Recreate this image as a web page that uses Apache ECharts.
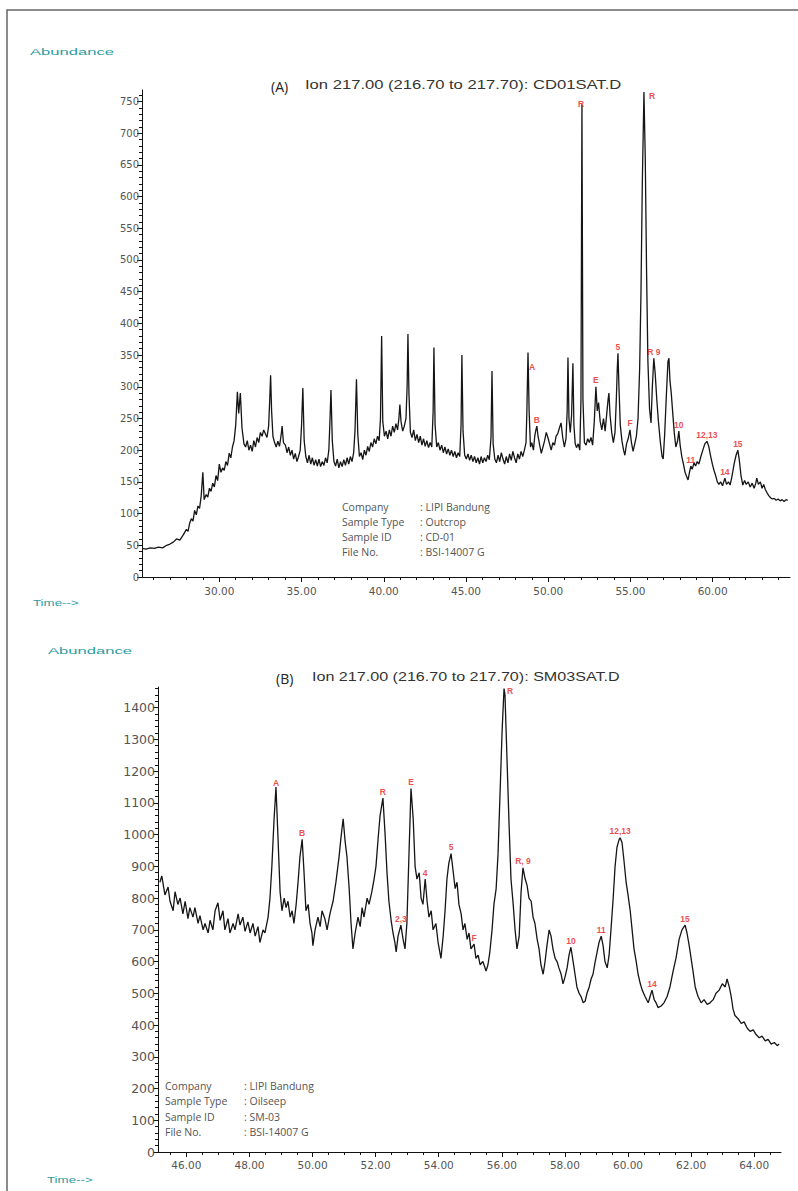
<!DOCTYPE html>
<html>
<head>
<meta charset="utf-8">
<script src="https://cdn.jsdelivr.net/npm/echarts@6/dist/echarts.min.js"></script>
<style>
html,body{margin:0;padding:0;background:#fff;}
#chart{width:798px;height:1191px;}
</style>
</head>
<body>
<div id="chart"></div>
<script>
// ---- Chromatogram (A): m/z 217, sample CD-01 ----
const timeA = [25.30,25.55,25.80,26.05,26.30,26.55,26.80,27.00,27.20,27.40,27.60,27.80,28.00,28.10,28.20,28.30,28.40,28.50,28.60,28.70,28.80,28.90,29.00,29.08,29.20,29.30,29.40,29.50,29.60,29.70,29.80,29.90,30.00,30.10,30.20,30.30,30.40,30.50,30.60,30.70,30.80,30.90,31.00,31.10,31.18,31.28,31.38,31.50,31.60,31.70,31.80,31.90,32.00,32.10,32.20,32.30,32.40,32.50,32.60,32.70,32.80,32.90,33.00,33.06,33.12,33.18,33.26,33.36,33.46,33.56,33.66,33.76,33.82,33.90,34.02,34.12,34.22,34.32,34.42,34.52,34.62,34.72,34.82,34.92,35.00,35.08,35.16,35.26,35.36,35.46,35.56,35.66,35.76,35.86,35.96,36.06,36.16,36.26,36.36,36.46,36.56,36.66,36.72,36.79,36.87,36.97,37.07,37.17,37.27,37.37,37.47,37.57,37.67,37.77,37.87,37.97,38.07,38.17,38.25,38.34,38.42,38.52,38.62,38.72,38.82,38.92,39.02,39.12,39.22,39.32,39.42,39.52,39.62,39.72,39.80,39.87,39.94,40.04,40.14,40.24,40.34,40.44,40.54,40.64,40.74,40.84,40.92,40.98,41.05,41.15,41.25,41.35,41.42,41.47,41.53,41.62,41.72,41.82,41.92,42.02,42.12,42.22,42.32,42.42,42.52,42.62,42.72,42.82,42.92,43.00,43.05,43.12,43.22,43.32,43.42,43.52,43.62,43.72,43.82,43.92,44.02,44.12,44.22,44.32,44.42,44.52,44.62,44.70,44.75,44.82,44.92,45.02,45.12,45.22,45.32,45.42,45.52,45.62,45.72,45.82,45.92,46.02,46.12,46.22,46.32,46.42,46.52,46.58,46.65,46.75,46.85,46.95,47.05,47.15,47.25,47.35,47.45,47.55,47.65,47.75,47.85,47.95,48.05,48.15,48.25,48.35,48.45,48.55,48.65,48.70,48.77,48.84,48.92,49.00,49.10,49.18,49.25,49.31,49.38,49.48,49.58,49.68,49.78,49.88,49.98,50.08,50.18,50.28,50.38,50.48,50.58,50.68,50.78,50.88,50.98,51.08,51.15,51.20,51.26,51.34,51.42,51.50,51.56,51.64,51.72,51.82,51.92,51.99,52.05,52.11,52.20,52.30,52.40,52.50,52.60,52.70,52.80,52.90,52.98,53.06,53.16,53.26,53.36,53.46,53.56,53.64,53.69,53.76,53.86,53.96,54.06,54.14,54.20,54.24,54.30,54.38,54.48,54.58,54.66,54.76,54.86,54.97,55.06,55.16,55.26,55.36,55.46,55.56,55.64,55.72,55.82,55.90,55.98,56.06,56.16,56.25,56.33,56.42,56.50,56.60,56.70,56.82,56.92,56.99,57.08,57.18,57.28,57.34,57.40,57.48,57.56,57.66,57.76,57.86,57.94,58.02,58.12,58.22,58.32,58.42,58.50,58.58,58.67,58.76,58.86,58.96,59.06,59.16,59.28,59.40,59.52,59.65,59.76,59.88,59.98,60.08,60.18,60.28,60.38,60.48,60.60,60.74,60.84,60.96,61.06,61.18,61.30,61.42,61.53,61.62,61.72,61.83,61.94,62.04,62.16,62.28,62.40,62.52,62.62,62.68,62.78,62.90,63.00,63.10,63.20,63.32,63.42,63.52,63.62,63.74,63.86,63.98,64.10,64.22,64.34,64.46,64.56];
const abundA = [45,44,46,45,47,46,50,52,55,60,58,66,75,72,85,92,88,105,98,112,108,128,165,122,130,126,140,135,148,142,160,152,178,165,172,168,182,176,195,188,205,215,240,292,258,290,235,210,205,215,200,208,198,215,205,220,212,228,222,232,226,220,238,275,318,262,222,212,205,214,206,224,238,212,208,196,205,192,200,186,195,182,190,200,238,298,215,190,180,192,178,188,176,185,175,186,174,182,176,188,180,200,240,295,215,182,175,186,172,182,174,185,176,188,178,190,182,196,230,312,225,190,196,185,200,192,206,198,212,205,218,210,222,215,250,380,245,222,230,218,232,222,238,228,242,232,250,272,245,230,238,250,300,383,290,228,220,232,215,225,212,222,208,218,206,215,204,212,205,260,362,240,205,212,200,208,196,205,194,202,192,200,190,198,188,196,190,240,350,230,192,186,194,184,192,182,190,180,188,178,190,180,188,182,192,185,220,325,210,186,180,192,182,196,186,178,190,180,194,184,198,188,180,194,186,198,190,200,212,260,354,260,205,212,200,222,232,238,222,208,195,205,215,228,220,210,200,212,208,222,226,235,243,220,205,218,260,346,250,228,255,337,240,210,204,210,200,280,745,280,212,208,218,212,220,208,245,300,262,275,245,232,250,230,258,280,290,255,228,212,228,280,330,353,300,240,215,200,192,210,218,232,212,198,210,222,250,330,450,620,765,660,480,340,265,243,300,345,322,280,245,212,190,186,225,285,340,345,310,290,262,228,205,214,230,208,190,178,165,158,153,164,175,170,180,175,182,178,190,200,210,214,206,190,178,168,160,150,146,150,144,156,146,150,145,160,178,192,200,184,160,145,152,146,150,142,148,140,148,156,146,150,140,146,138,132,128,125,123,124,121,123,120,122,119,122,121];

// ---- Chromatogram (B): m/z 217, sample SM-03 ----
const timeB = [45.16,45.22,45.32,45.42,45.48,45.58,45.64,45.73,45.80,45.89,45.96,46.05,46.11,46.21,46.27,46.37,46.43,46.53,46.59,46.69,46.75,46.84,46.91,47.00,47.07,47.16,47.22,47.32,47.38,47.48,47.54,47.64,47.70,47.79,47.86,47.95,48.02,48.11,48.18,48.27,48.33,48.43,48.49,48.59,48.65,48.71,48.78,48.84,48.90,48.97,49.03,49.10,49.16,49.22,49.29,49.35,49.41,49.48,49.54,49.60,49.67,49.73,49.79,49.86,49.92,49.98,50.01,50.08,50.17,50.24,50.30,50.39,50.46,50.55,50.65,50.74,50.84,50.90,50.97,51.03,51.09,51.16,51.22,51.28,51.35,51.44,51.51,51.57,51.63,51.73,51.79,51.88,51.95,52.01,52.08,52.14,52.23,52.30,52.36,52.42,52.49,52.55,52.61,52.65,52.71,52.80,52.87,52.93,52.99,53.06,53.12,53.19,53.25,53.31,53.38,53.44,53.50,53.57,53.63,53.69,53.76,53.82,53.91,53.98,54.07,54.14,54.20,54.26,54.32,54.39,54.45,54.52,54.58,54.64,54.71,54.77,54.83,54.90,54.96,55.02,55.12,55.18,55.25,55.31,55.40,55.50,55.56,55.62,55.69,55.75,55.82,55.88,55.94,56.01,56.07,56.10,56.16,56.23,56.29,56.36,56.42,56.48,56.55,56.61,56.67,56.74,56.80,56.86,56.93,56.99,57.05,57.12,57.18,57.24,57.31,57.37,57.43,57.50,57.56,57.62,57.69,57.75,57.81,57.88,57.94,58.00,58.07,58.13,58.19,58.26,58.32,58.38,58.45,58.51,58.58,58.64,58.70,58.77,58.83,58.89,58.96,59.02,59.08,59.15,59.21,59.27,59.34,59.40,59.46,59.53,59.59,59.65,59.72,59.75,59.81,59.87,59.94,60.00,60.07,60.13,60.19,60.26,60.32,60.39,60.45,60.54,60.64,60.70,60.76,60.83,60.89,60.95,61.05,61.14,61.24,61.33,61.43,61.52,61.62,61.71,61.81,61.87,61.94,62.00,62.06,62.13,62.22,62.32,62.41,62.51,62.60,62.70,62.79,62.89,62.99,63.08,63.14,63.21,63.27,63.33,63.39,63.49,63.59,63.68,63.78,63.87,63.97,64.06,64.16,64.25,64.35,64.44,64.54,64.64,64.73,64.79];
const abundB = [850,870,810,835,790,760,820,780,800,750,790,735,770,740,770,720,745,700,720,690,730,700,760,785,730,760,700,735,690,720,700,750,715,740,695,725,690,720,680,710,660,700,690,740,800,900,1050,1150,1000,820,760,800,770,790,740,760,720,780,850,930,985,880,760,780,720,690,650,700,740,710,760,735,700,750,790,850,930,990,1050,980,930,830,720,640,690,740,710,770,740,800,780,820,860,900,990,1060,1115,1000,880,790,730,690,660,630,680,715,670,640,720,950,1145,1050,900,860,880,800,780,860,790,740,760,700,720,660,610,680,760,860,910,940,890,830,850,780,750,700,720,670,690,640,655,610,620,590,600,570,590,630,700,780,830,940,1120,1330,1460,1440,1250,1030,860,780,700,640,680,820,895,860,840,800,790,740,720,670,640,590,560,600,650,700,680,640,610,600,580,560,530,550,580,620,645,600,560,520,500,490,470,475,500,520,545,560,600,630,660,680,650,600,580,620,700,800,900,960,985,990,975,920,850,810,760,700,640,600,560,530,510,490,470,490,510,480,470,455,460,470,490,520,570,610,670,700,715,690,650,610,570,520,490,470,480,465,470,480,500,510,530,520,545,520,490,450,430,420,405,410,390,380,385,370,360,365,350,355,340,345,335,340];

// Peak annotations (names and retention times)
const peakNamesA = ['A','B','R','E','5','F','R','R 9','10','11','12,13','14','15'];
const peakTimesA = [48.77,49.31,52.05,52.90,54.24,54.97,55.82,56.42,57.94,58.67,59.65,60.74,61.53];
const peakNamesB = ['A','B','R','2,3','E','4','5','F','R','R, 9','10','11','12,13','14','15'];
const peakTimesB = [48.84,49.67,52.23,52.80,53.12,53.57,54.39,55.12,56.07,56.67,58.19,59.15,59.75,60.76,61.81];

// Axis tick labels
const xLabelsA = [30,35,40,45,50,55,60];
const yLabelsA = [0,50,100,150,200,250,300,350,400,450,500,550,600,650,700,750];
const xLabelsB = [46,48,50,52,54,56,58,60,62,64];
const yLabelsB = [0,100,200,300,400,500,600,700,800,900,1000,1100,1200,1300,1400];

// Label nudges (pixels) for annotations that sit beside their peak
const labelShiftA = {0:[4,21], 2:[-1,6], 6:[8,11]};
const labelShiftB = {0:[0,3], 8:[6,9]};

function pairs(t, v) { return t.map((x, i) => [x, v[i]]); }
function peakValue(t, v, at) {
  let best = -Infinity;
  for (let i = 0; i < t.length; i++) if (Math.abs(t[i] - at) < 0.04 && v[i] > best) best = v[i];
  return best;
}
function stepValues(from, to, step) {
  const out = [];
  for (let k = 0; from + k * step <= to + 1e-9; k++) out.push(+(from + k * step).toFixed(3));
  return out;
}
function peakSeries(names, times, t, v, shifts, xi, yi) {
  return {
    type: 'scatter', xAxisIndex: xi, yAxisIndex: yi, symbolSize: 2, silent: true,
    itemStyle: { color: 'rgba(0,0,0,0)' },
    data: names.map((n, i) => {
      const item = { name: n, value: [times[i], peakValue(t, v, times[i])] };
      if (shifts[i]) item.label = { offset: shifts[i] };
      return item;
    }),
    label: {
      show: true, position: 'top', distance: 1, formatter: p => p.name,
      color: '#e8201a', fontFamily: 'Liberation Sans', fontSize: 8.5, fontWeight: 'bold'
    },
    z: 5
  };
}

const AXIS = '#111';
const LABEL = '#555';

function xMain(grid, min, max, labels, ticks, fs, margin) {
  return {
    type: 'value', gridIndex: grid, position: 'bottom', min: min, max: max,
    axisLine: { show: true, onZero: false, lineStyle: { color: AXIS, width: 1 } },
    axisTick: { show: true, customValues: ticks, length: 5, lineStyle: { color: AXIS } },
    axisLabel: { customValues: labels, formatter: v => v.toFixed(2), color: LABEL,
                 fontFamily: 'DejaVu Sans', fontSize: fs, margin: margin },
    splitLine: { show: false }
  };
}
function xMinor(grid, min, max, ticks) {
  return {
    type: 'value', gridIndex: grid, position: 'bottom', min: min, max: max,
    axisLine: { show: false }, axisLabel: { show: false }, splitLine: { show: false },
    axisTick: { show: true, customValues: ticks, length: 3, lineStyle: { color: AXIS } }
  };
}
function yMain(grid, max, labels, fs) {
  return {
    type: 'value', gridIndex: grid, position: 'left', min: 0, max: max,
    axisLine: { show: true, onZero: false, lineStyle: { color: AXIS, width: 1 } },
    axisTick: { show: true, customValues: labels, length: 5, lineStyle: { color: AXIS } },
    axisLabel: { customValues: labels, formatter: v => String(v), color: LABEL,
                 fontFamily: 'DejaVu Sans', fontSize: fs, margin: 3 },
    splitLine: { show: false }
  };
}
function yMinor(grid, max, ticks) {
  return {
    type: 'value', gridIndex: grid, position: 'left', min: 0, max: max,
    axisLine: { show: false }, axisLabel: { show: false }, splitLine: { show: false },
    axisTick: { show: true, customValues: ticks, length: 3, lineStyle: { color: AXIS } }
  };
}

function txt(x, y, s, font, fill, sx) {
  return {
    type: 'text', x: x, y: y, scaleX: sx || 1, silent: true,
    style: { text: s, font: font, fill: fill, align: 'left', textAlign: 'left',
             verticalAlign: 'middle', textVerticalAlign: 'middle' }
  };
}

const TEAL = '#2c9ca3';
const INFO = '10.5px "Open Sans"';
const infoKeys = ['Company', 'Sample Type', 'Sample ID', 'File No.'];
const infoA = [': LIPI Bandung', ': Outcrop', ': CD-01', ': BSI-14007 G'];
const infoB = [': LIPI Bandung', ': Oilseep', ': SM-03', ': BSI-14007 G'];

const graphics = [
  { type: 'polyline', silent: true, shape: { points: [[7, 1191], [7, 10], [798, 10]] },
    style: { stroke: '#666', lineWidth: 1.5, fill: null } },
  txt(30, 52, 'Abundance', '9.5px "Liberation Sans"', TEAL, 1.75),
  txt(33, 603, 'Time-->', '9.5px "Liberation Sans"', TEAL, 1.4),
  txt(271, 86, '(A)', '14px "Open Sans"', '#222'),
  txt(305, 85, 'Ion 217.00 (216.70 to 217.70): CD01SAT.D', '12.5px "Liberation Sans"', '#333', 1.33),
  txt(48, 651, 'Abundance', '9.5px "Liberation Sans"', TEAL, 1.75),
  txt(47, 1180, 'Time-->', '9.5px "Liberation Sans"', TEAL, 1.4),
  txt(276, 678, '(B)', '14px "Open Sans"', '#222'),
  txt(312, 677, 'Ion 217.00 (216.70 to 217.70): SM03SAT.D', '12.5px "Liberation Sans"', '#333', 1.29)
];
infoKeys.forEach((k, i) => {
  graphics.push(txt(342, 507 + i * 15, k, INFO, '#555'));
  graphics.push(txt(420, 507 + i * 15, infoA[i], INFO, '#555'));
  graphics.push(txt(165, 1086 + i * 15.3, k, INFO, '#555'));
  graphics.push(txt(244, 1086 + i * 15.3, infoB[i], INFO, '#555'));
});

const xMinA = 25.3, xMaxA = 64.7, yMaxA = 768;
const xMinB = 45.1, xMaxB = 64.85, yMaxB = 1465;

const chart = echarts.init(document.getElementById('chart'), null, { renderer: 'svg' });
chart.setOption({
  animation: false,
  backgroundColor: '#fff',
  grid: [
    { left: 142, right: 8, top: 90, height: 487 },
    { left: 158, right: 17, top: 687, height: 465 }
  ],
  xAxis: [
    xMain(0, xMinA, xMaxA, xLabelsA, xLabelsA, 10.5, 8),
    xMinor(0, xMinA, xMaxA, stepValues(26, 64, 1)),
    xMain(1, xMinB, xMaxB, xLabelsB, xLabelsB, 10.5, 7),
    xMinor(1, xMinB, xMaxB, stepValues(45.5, 64.5, 0.5))
  ],
  yAxis: [
    yMain(0, yMaxA, yLabelsA, 10),
    yMinor(0, yMaxA, stepValues(0, 760, 10)),
    yMain(1, yMaxB, yLabelsB, 12.5),
    yMinor(1, yMaxB, stepValues(0, 1460, 20))
  ],
  series: [
    { type: 'line', xAxisIndex: 0, yAxisIndex: 0, data: pairs(timeA, abundA), showSymbol: false,
      silent: true, lineStyle: { color: '#151515', width: 1.3 } },
    { type: 'line', xAxisIndex: 2, yAxisIndex: 2, data: pairs(timeB, abundB), showSymbol: false,
      silent: true, lineStyle: { color: '#151515', width: 1.3 } },
    peakSeries(peakNamesA, peakTimesA, timeA, abundA, labelShiftA, 0, 0),
    peakSeries(peakNamesB, peakTimesB, timeB, abundB, labelShiftB, 2, 2)
  ],
  graphic: graphics
});
</script>
</body>
</html>
